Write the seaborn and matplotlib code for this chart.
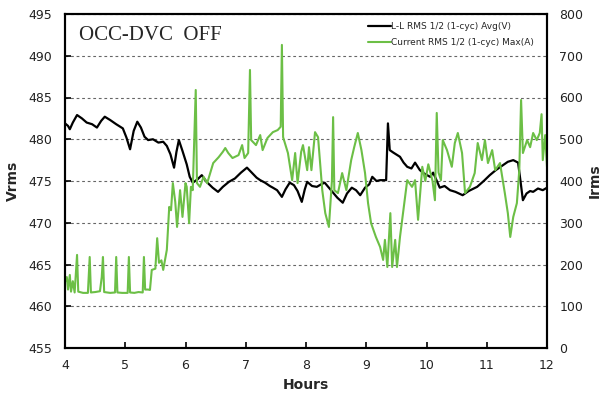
import matplotlib
matplotlib.use("Agg")
import matplotlib.pyplot as plt
import seaborn as sns

# -------------------------------
# Data
# -------------------------------
horas_v = [4.00, 4.05, 4.08, 4.13, 4.20, 4.28, 4.36, 4.45, 4.53, 4.60, 4.66, 4.75,
           4.85, 4.96, 5.02, 5.08, 5.14, 5.20, 5.26, 5.32, 5.38, 5.46, 5.55, 5.63,
           5.69, 5.75, 5.81, 5.85, 5.89, 5.95, 6.02, 6.07, 6.12, 6.20, 6.27, 6.35,
           6.45, 6.54, 6.62, 6.72, 6.82, 6.92, 7.02, 7.10, 7.18, 7.24, 7.32, 7.40,
           7.45, 7.52, 7.60, 7.66, 7.73, 7.80, 7.86, 7.93, 7.98, 8.02, 8.10, 8.18,
           8.25, 8.31, 8.38, 8.45, 8.52, 8.61, 8.68, 8.76, 8.83, 8.90, 8.98, 9.05,
           9.10, 9.17, 9.23, 9.33, 9.36, 9.39, 9.45, 9.56, 9.62, 9.68, 9.75, 9.81,
           9.89, 9.96, 10.06, 10.11, 10.16, 10.22, 10.30, 10.39, 10.48, 10.60, 10.70,
           10.84, 10.95, 11.05, 11.15, 11.27, 11.35, 11.44, 11.52, 11.56, 11.60,
           11.66, 11.72, 11.77, 11.85, 11.93, 12.00]
vrms = [481.9, 481.6, 481.2, 482.0, 482.9, 482.5, 482.0, 481.8, 481.4, 482.2, 482.7, 482.3,
        481.8, 481.3, 480.2, 478.8, 481.0, 482.1, 481.4, 480.3, 479.9, 480.0, 479.6, 479.7,
        479.2, 478.2, 476.6, 478.5, 479.9, 478.6, 477.0, 475.5, 474.8, 475.2, 475.7, 474.9,
        474.2, 473.7, 474.3, 474.9, 475.3, 476.0, 476.6, 476.0, 475.4, 475.1, 474.8, 474.4,
        474.2, 473.9, 473.1, 474.0, 474.8, 474.5, 473.8, 472.5, 474.0, 474.9, 474.4, 474.3,
        474.6, 474.8, 474.2, 473.6, 473.0, 472.4, 473.5, 474.2, 473.9, 473.3, 474.2, 474.6,
        475.5, 475.0, 475.1, 475.1, 481.9, 478.7, 478.4, 477.9, 477.2, 476.7, 476.5, 477.2,
        476.3, 475.9, 475.5, 476.0, 475.2, 474.2, 474.4, 473.9, 473.7, 473.3, 473.8,
        474.3, 475.0, 475.7, 476.3, 476.9, 477.3, 477.5, 477.2, 475.0, 472.7,
        473.5, 473.8, 473.7, 474.1, 473.9, 474.2]

horas_i = [4.00, 4.03, 4.05, 4.08, 4.10, 4.13, 4.16, 4.20, 4.22, 4.30, 4.38, 4.41, 4.43,
           4.50, 4.58, 4.61, 4.63, 4.65, 4.75, 4.83, 4.85, 4.87, 4.95, 5.04, 5.06, 5.08,
           5.15, 5.22, 5.29, 5.31, 5.33, 5.38, 5.41, 5.44, 5.50, 5.53, 5.56, 5.60, 5.63,
           5.69, 5.73, 5.76, 5.79, 5.83, 5.86, 5.91, 5.95, 6.00, 6.02, 6.06, 6.09, 6.12,
           6.17, 6.19, 6.24, 6.30, 6.36, 6.46, 6.55, 6.62, 6.66, 6.71, 6.78, 6.88, 6.94,
           6.98, 7.04, 7.07, 7.09, 7.17, 7.24, 7.28, 7.36, 7.45, 7.53, 7.58, 7.60, 7.62,
           7.70, 7.77, 7.82, 7.86, 7.92, 7.95, 8.00, 8.02, 8.05, 8.09, 8.15, 8.20, 8.27,
           8.32, 8.38, 8.43, 8.45, 8.47, 8.53, 8.60, 8.67, 8.75, 8.80, 8.86, 8.92, 8.98,
           9.03, 9.08, 9.16, 9.23, 9.28, 9.31, 9.35, 9.40, 9.43, 9.48, 9.51, 9.56, 9.61,
           9.68, 9.76, 9.81, 9.86, 9.93, 9.98, 10.03, 10.10, 10.14, 10.17, 10.20, 10.24,
           10.27, 10.34, 10.42, 10.47, 10.52, 10.59, 10.64, 10.72, 10.80, 10.85, 10.92,
           10.97, 11.02, 11.09, 11.14, 11.22, 11.30, 11.35, 11.39, 11.44, 11.50, 11.54,
           11.57, 11.60, 11.67, 11.72, 11.77, 11.83, 11.88, 11.91, 11.93, 11.97, 12.00]
irms = [158, 170, 140, 175, 135, 160, 133, 223, 135, 132, 132, 218, 133,
        134, 136, 170, 218, 134, 132, 133, 218, 133, 132, 132, 218, 133,
        132, 134, 133, 218, 140, 140, 139, 187, 190, 263, 204, 210, 187,
        235, 338, 330, 395, 350, 290, 378, 314, 395, 386, 299, 386, 378,
        618, 395, 386, 410, 395, 443, 457, 470, 479, 467, 455, 462, 486,
        455, 467, 666, 498, 486, 510, 474, 503, 517, 522, 530, 726, 505,
        467, 402, 467, 395, 470, 486, 443, 426, 481, 426, 517, 505, 378,
        323, 290, 400, 553, 378, 371, 419, 378, 450, 481, 515, 474, 419,
        347, 299, 266, 242, 211, 259, 194, 323, 194, 259, 194, 266, 323,
        402, 386, 402, 307, 434, 400, 440, 400, 354, 563, 420, 402,
        498, 474, 434, 491, 515, 467, 371, 386, 419, 491, 450,
        498, 443, 474, 426, 443, 371, 323, 266, 314, 347, 426,
        594, 467, 498, 481, 515, 498, 515, 560, 450, 510, 434]

rotulo_v = "L-L RMS 1/2 (1-cyc) Avg(V)"
rotulo_i = "Current RMS 1/2 (1-cyc) Max(A)"
titulo = "OCC-DVC  OFF"

# -------------------------------
# Figure
# -------------------------------
sns.set_style("ticks")
plt.rcParams["font.family"] = ["DejaVu Sans"]

fig = plt.figure(figsize=(6.04, 4.0), dpi=100)
ax = fig.add_axes([65 / 604, 52 / 400, 482 / 604, 334 / 400])
ax2 = ax.twinx()

sns.lineplot(x=horas_v, y=vrms, ax=ax, color="black", lw=1.6,
             estimator=None, label=rotulo_v, legend=False)
sns.lineplot(x=horas_i, y=irms, ax=ax2, color="#6cbf46", lw=1.5,
             estimator=None, label=rotulo_i, legend=False)

ax.set_xlim(4, 12)
ax.set_ylim(455, 495)
ax2.set_ylim(0, 800)
ax.set_xticks(range(4, 13))
ax.set_yticks(range(455, 500, 5))
ax2.set_yticks(range(0, 900, 100))

ax.yaxis.grid(True, linestyle=(0, (2.5, 2.5)), color="#666666", lw=0.8)
ax.set_axisbelow(True)

ax.tick_params(axis="both", direction="in", length=4, width=1.2,
               labelsize=9, colors="black", labelcolor="#222222", pad=9)
ax.tick_params(axis="x", pad=8)
ax2.tick_params(axis="y", length=0, labelsize=9, labelcolor="#222222", pad=9)

for a in (ax, ax2):
    for s in a.spines.values():
        s.set_linewidth(1.5)
        s.set_color("black")
        s.set_visible(True)

ax.set_xlabel("Hours", fontsize=10, fontweight="bold", labelpad=4)
ax.set_ylabel("Vrms", fontsize=10, fontweight="bold", labelpad=6)
ax2.set_ylabel("Irms", fontsize=10, fontweight="bold", labelpad=3)

ax.text(0.03, 0.965, titulo, transform=ax.transAxes, ha="left", va="top",
        fontsize=15, family="Liberation Serif")

linhas = ax.get_lines()[:1] + ax2.get_lines()[:1]
ax2.legend(linhas, [rotulo_v, rotulo_i], loc="upper right", frameon=False,
           fontsize=6.5, handlelength=2.6, handletextpad=0.0,
           labelspacing=0.75, bbox_to_anchor=(0.99, 1.0))

fig.savefig("out.png", dpi=100)
